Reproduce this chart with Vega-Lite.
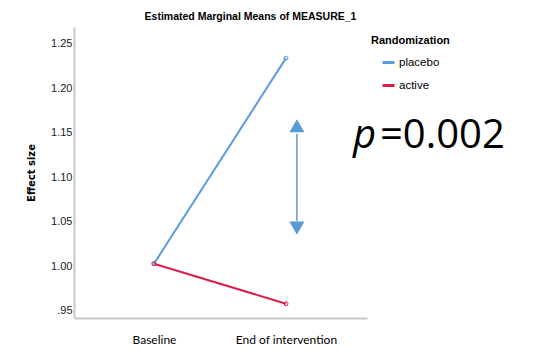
{
  "$schema": "https://vega.github.io/schema/vega-lite/v6.json",
  "width": 293,
  "height": 291,
  "autosize": {"type": "none"},
  "padding": {"left": 74, "top": 27, "right": 166, "bottom": 34},
  "background": "white",
  "title": {
    "text": "Estimated Marginal Means of MEASURE_1",
    "font": "Liberation Sans",
    "fontSize": 10.5,
    "fontWeight": "bold",
    "color": "#000000",
    "anchor": "middle",
    "dx": 30,
    "offset": 5
  },
  "config": {
    "view": {"stroke": null},
    "axis": {"grid": false, "ticks": false, "domainColor": "#c8c8c8", "domainWidth": 2}
  },
  "data": {
    "values": [
      {"Randomization": "placebo", "time": "Baseline", "order": 0, "mean": 1.003},
      {"Randomization": "placebo", "time": "End of intervention", "order": 1, "mean": 1.234},
      {"Randomization": "active", "time": "Baseline", "order": 0, "mean": 1.003},
      {"Randomization": "active", "time": "End of intervention", "order": 1, "mean": 0.958}
    ]
  },
  "layer": [
    {
      "mark": {"type": "line", "strokeWidth": 2, "point": {"filled": false, "size": 16, "strokeWidth": 1}},
      "encoding": {
        "x": {
          "field": "order",
          "type": "quantitative",
          "scale": {"domain": [-0.606, 1.614], "nice": false, "zero": false},
          "axis": {
            "title": null,
            "values": [0, 1],
            "labelExpr": "datum.value == 0 ? 'Baseline' : 'End of intervention'",
            "labelFont": "Lato",
            "labelFontSize": 12,
            "labelColor": "#000000",
            "labelPadding": 16
          }
        },
        "y": {
          "field": "mean",
          "type": "quantitative",
          "scale": {"domain": [0.942, 1.269], "nice": false, "zero": false},
          "axis": {
            "title": "Effect size",
            "values": [0.95, 1.0, 1.05, 1.1, 1.15, 1.2, 1.25],
            "labelExpr": "replace(format(datum.value, '.2f'), '0.', '.')",
            "labelFont": "Liberation Sans",
            "labelFontSize": 11,
            "labelColor": "#222222",
            "labelPadding": 2,
            "titleFont": "DejaVu Sans",
            "titleFontSize": 10,
            "titleFontWeight": "bold",
            "titleColor": "#000000",
            "titlePadding": 14
          }
        },
        "color": {
          "field": "Randomization",
          "type": "nominal",
          "scale": {"domain": ["placebo", "active"], "range": ["#5b9bde", "#d91e4b"]},
          "legend": {
            "orient": "none",
            "legendX": 297,
            "legendY": 8,
            "title": "Randomization",
            "titleFont": "Liberation Sans",
            "titleFontSize": 11,
            "titleFontWeight": "bold",
            "titleColor": "#000000",
            "titlePadding": 9,
            "labelFont": "Liberation Sans",
            "labelFontSize": 11.5,
            "labelColor": "#000000",
            "labelOffset": 3,
            "symbolType": "stroke",
            "symbolSize": 144,
            "symbolStrokeWidth": 3,
            "symbolOffset": 10,
            "rowPadding": 9,
            "padding": 0
          }
        }
      }
    },
    {
      "data": {"values": [{}]},
      "mark": {"type": "rule", "color": "#5b9bd5", "strokeWidth": 1.5},
      "encoding": {
        "x": {"datum": 1.083, "type": "quantitative"},
        "y": {"datum": 1.149, "type": "quantitative"},
        "y2": {"datum": 1.051}
      }
    },
    {
      "data": {"values": [{}]},
      "mark": {"type": "point", "shape": "triangle-up", "filled": true, "color": "#5b9bd5", "size": 230, "opacity": 1},
      "encoding": {
        "x": {"datum": 1.083, "type": "quantitative"},
        "y": {"datum": 1.158, "type": "quantitative"}
      }
    },
    {
      "data": {"values": [{}]},
      "mark": {"type": "point", "shape": "triangle-down", "filled": true, "color": "#5b9bd5", "size": 230, "opacity": 1},
      "encoding": {
        "x": {"datum": 1.083, "type": "quantitative"},
        "y": {"datum": 1.043, "type": "quantitative"}
      }
    },
    {
      "data": {"values": [{}]},
      "mark": {"type": "text", "text": "p", "font": "Open Sans", "fontStyle": "italic", "fontSize": 40, "align": "left", "baseline": "alphabetic", "color": "#000000"},
      "encoding": {
        "x": {"datum": 1.508, "type": "quantitative"},
        "y": {"datum": 1.133, "type": "quantitative"}
      }
    },
    {
      "data": {"values": [{}]},
      "mark": {"type": "text", "text": "=0.002", "font": "Open Sans", "fontSize": 40, "align": "left", "baseline": "alphabetic", "color": "#000000"},
      "encoding": {
        "x": {"datum": 1.712, "type": "quantitative"},
        "y": {"datum": 1.133, "type": "quantitative"}
      }
    }
  ]
}
